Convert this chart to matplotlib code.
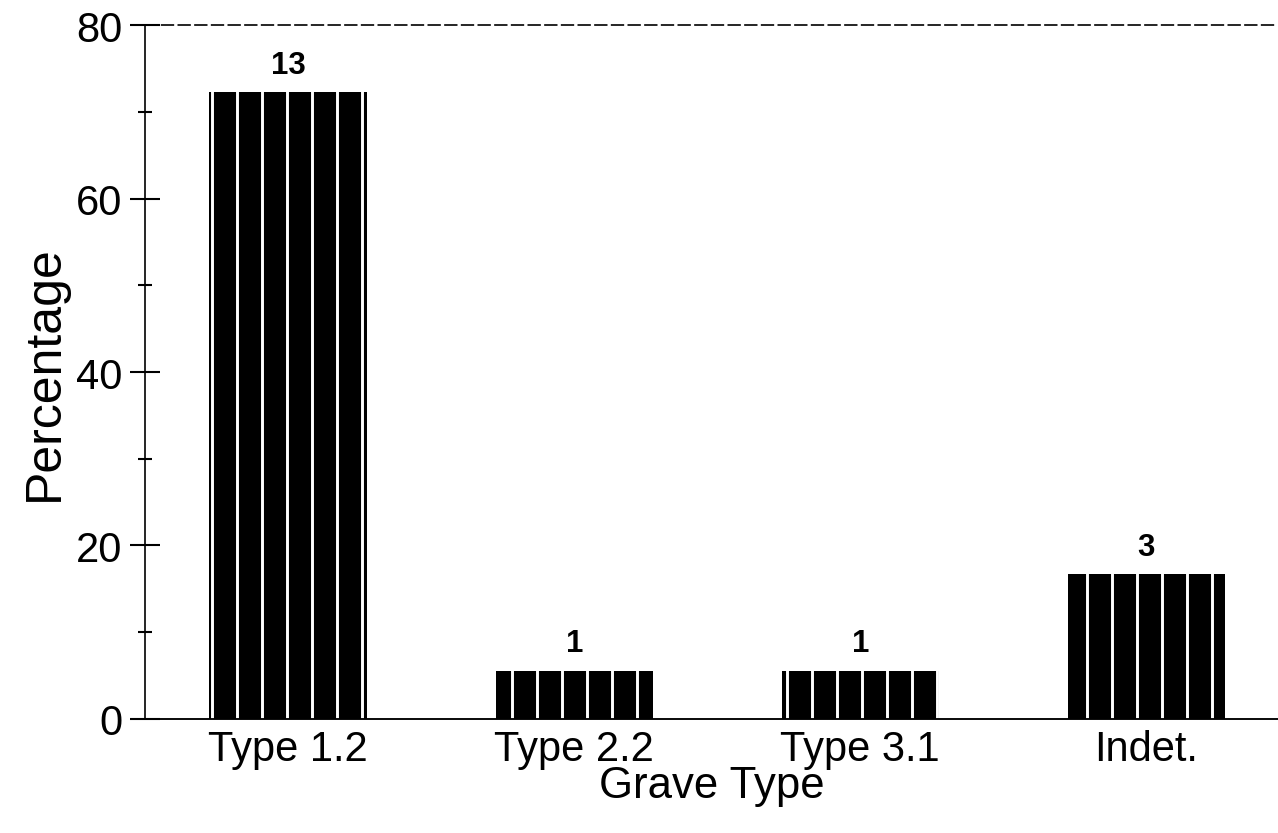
import numpy as np
import matplotlib
matplotlib.use('Agg')
import matplotlib.pyplot as plt

# Grave type counts (n = 18) and their share in percent
categories = ['Type 1.2', 'Type 2.2', 'Type 3.1', 'Indet.']
counts = [13, 1, 1, 3]
percent = [100 * c / sum(counts) for c in counts]

plt.rcParams['font.family'] = ['Liberation Sans', 'DejaVu Sans']
plt.rcParams['hatch.color'] = 'white'
plt.rcParams['hatch.linewidth'] = 1.4

fig = plt.figure(figsize=(8.52, 5.56), dpi=150)
ax = fig.add_axes([0.1135, 0.1367, 0.8865, 0.8321])

x = np.arange(len(categories))
bars = ax.bar(x, percent, width=0.55, color='black', edgecolor='white',
              hatch='|', linewidth=0)

for b, c in zip(bars, counts):
    ax.annotate(str(c), (b.get_x() + b.get_width() / 2, b.get_height()),
                xytext=(0, 6), textcoords='offset points', ha='center',
                va='bottom', fontsize=15, fontweight='bold')

ax.set_xlim(-0.5, 3.46)
ax.set_ylim(0, 80)
ax.set_yticks([0, 20, 40, 60, 80])
ax.set_yticks([10, 30, 50, 70], minor=True)
ax.set_xticks(x)
ax.set_xticklabels(categories)

ax.tick_params(axis='y', which='major', direction='inout', length=14, width=1,
               labelsize=20, pad=4)
ax.tick_params(axis='y', which='minor', direction='inout', length=7, width=1)
ax.tick_params(axis='x', length=0, labelsize=20, pad=5)

ax.set_xlabel('Grave Type', fontsize=21, labelpad=-2)
ax.set_ylabel('Percentage', fontsize=24, labelpad=4)

ax.spines['right'].set_visible(False)
ax.spines['top'].set_linestyle((0, (7, 3)))
ax.spines['top'].set_linewidth(0.8)
ax.spines['left'].set_linewidth(0.8)
ax.spines['bottom'].set_linewidth(0.9)

plt.savefig('out.png', dpi=150)
plt.close()
